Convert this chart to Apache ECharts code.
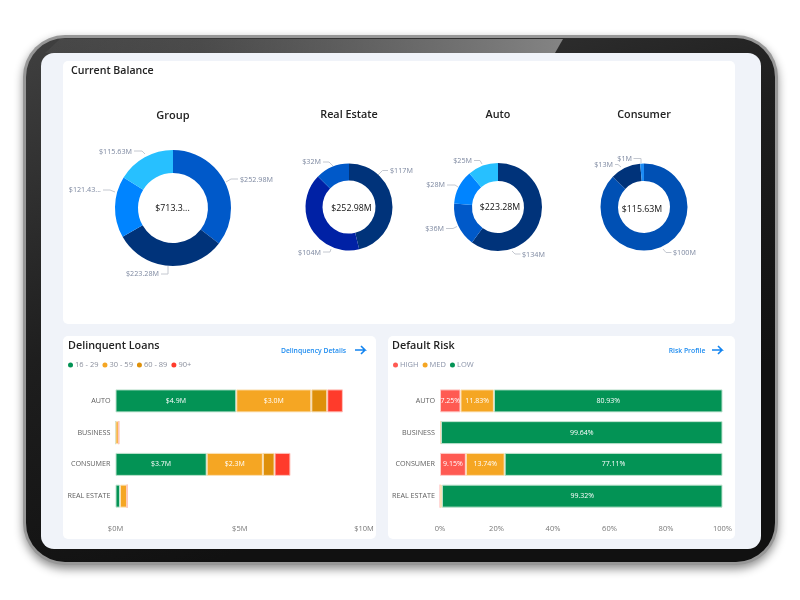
<!DOCTYPE html>
<html>
<head>
<meta charset="utf-8">
<title>Loan dashboard</title>
<script src="https://cdn.jsdelivr.net/npm/echarts@6/dist/echarts.min.js"></script>
<style>
  html, body { margin: 0; padding: 0; background: #fff; }
  #main { width: 800px; height: 600px; }
</style>
</head>
<body>
<div id="main"></div>
<script>
// donut data
const groupValues = [252.98, 223.28, 121.43, 115.63];
const groupLabels = ['$252.98M', '$223.28M', '$121.43...', '$115.63M'];
const realEstateValues = [117, 104, 32];
const realEstateLabels = ['$117M', '$104M', '$32M'];
const autoValues = [134, 36, 28, 25];
const autoLabels = ['$134M', '$36M', '$28M', '$25M'];
const consumerValues = [100, 13, 1.6];
const consumerLabels = ['$100M', '$13M', '$1M'];

// bar data
const loanTypes = ['AUTO', 'BUSINESS', 'CONSUMER', 'REAL ESTATE'];
const days16to29 = [4.86, 0, 3.67, 0.18];
const days30to59 = [3.02, 0.13, 2.26, 0.29];
const days60to89 = [0.64, 0, 0.47, 0];
const days90plus = [0.63, 0, 0.64, 0];
const riskHigh = [7.25, 0.36, 9.15, 0];
const riskMed = [11.83, 0, 13.74, 0.68];
const riskLow = [80.93, 99.64, 77.11, 99.32];

const FONT = '"Open Sans", "Noto Sans", sans-serif';
const chart = echarts.init(document.getElementById('main'));

// spots: where each outside label sits, [x, y, align, leader line points]
function donut(values, labels, colors, center, radius, spots) {
    return {
        type: 'pie',
        center: center,
        radius: radius,
        startAngle: 90,
        avoidLabelOverlap: false,
        data: values.map((v, i) => ({
            value: v,
            name: labels[i],
            itemStyle: { color: colors[i] }
        })),
        label: { formatter: '{b}', color: '#7d88a0', fontSize: 7.2, fontFamily: FONT },
        labelLine: { lineStyle: { color: '#c4c8d0', width: 1 } },
        labelLayout: p => ({
            x: spots[p.dataIndex][0],
            y: spots[p.dataIndex][1],
            align: spots[p.dataIndex][2],
            verticalAlign: 'middle',
            labelLinePoints: spots[p.dataIndex][3]
        }),
        emphasis: { disabled: true },
        silent: true
    };
}

function bar(name, values, color, border, grid, labelMin, fmt) {
    return {
        name: name,
        type: 'bar',
        stack: 'g' + grid,
        xAxisIndex: grid,
        yAxisIndex: grid,
        barWidth: 23,
        data: values,
        itemStyle: { color: color, borderColor: border, borderWidth: 1 },
        label: {
            show: true,
            position: 'inside',
            color: '#fff',
            fontSize: 7,
            fontFamily: FONT,
            formatter: p => p.value >= labelMin ? fmt(p.value) : ''
        },
        silent: true
    };
}

const money = v => '$' + v.toFixed(1) + 'M';
const pct = v => v.toFixed(2) + '%';

function text(str, x, y, size, color, align, weight) {
    return {
        type: 'text', x: x, y: y, silent: true,
        style: {
            text: str, fontSize: size, fill: color, fontFamily: FONT,
            align: align || 'left', verticalAlign: 'middle', fontWeight: weight || 400
        }
    };
}

function card(x, y, w, h) {
    return {
        type: 'rect', silent: true,
        shape: { x: x, y: y, width: w, height: h, r: 5 },
        style: { fill: '#fff' }
    };
}

function arrow(x, y) {
    return {
        type: 'polyline', silent: true,
        shape: { points: [[x, y], [x + 10, y], [x + 6, y - 4], [x + 10, y], [x + 6, y + 4]] },
        style: { stroke: '#1384f0', lineWidth: 1.6, fill: null }
    };
}

function xAxis(grid, max, interval, fmt) {
    return {
        type: 'value', gridIndex: grid, min: 0, max: max, interval: interval,
        axisLine: { show: false }, axisTick: { show: false }, splitLine: { show: false },
        axisLabel: { color: '#777', fontSize: 7.5, fontFamily: FONT, margin: 13, formatter: fmt }
    };
}

function yAxis(grid) {
    return {
        type: 'category', gridIndex: grid, data: loanTypes, inverse: true,
        axisLine: { show: false }, axisTick: { show: false },
        axisLabel: { color: '#5f5f5f', fontSize: 7.2, fontFamily: FONT, margin: 5 }
    };
}

function legend(names, left, color) {
    return {
        data: names, left: left, top: 361, orient: 'horizontal',
        icon: 'circle', itemWidth: 5, itemHeight: 5, itemGap: 4,
        selectedMode: false, padding: 0,
        itemStyle: { borderWidth: 0 },
        textStyle: { color: color, fontSize: 7.5, fontFamily: FONT, padding: [0, 0, 0, -3] }
    };
}

const option = {
    animation: false,
    backgroundColor: '#fff',
    graphic: [
        // tablet frame
        {
            type: 'rect', silent: true,
            shape: { x: 23, y: 35, width: 755, height: 530, r: 42 },
            style: { fill: '#979797', shadowBlur: 10, shadowColor: 'rgba(0,0,0,0.45)', shadowOffsetX: 0, shadowOffsetY: 4 }
        },
        {
            type: 'rect', silent: true,
            shape: { x: 26, y: 38, width: 749, height: 524, r: 39 },
            style: {
                fill: {
                    type: 'linear', x: 0, y: 0, x2: 0.25, y2: 1,
                    colorStops: [{ offset: 0, color: '#404040' }, { offset: 0.55, color: '#1e1e1e' }, { offset: 1, color: '#111' }]
                }
            }
        },
        // glare on the top edge
        {
            type: 'polygon', silent: true,
            shape: { points: [[60, 39], [563, 39], [555, 53], [45, 53]] },
            style: {
                fill: {
                    type: 'linear', x: 0, y: 0, x2: 1, y2: 0,
                    colorStops: [{ offset: 0, color: 'rgba(128,128,128,0.12)' }, { offset: 0.3, color: 'rgba(128,128,128,0.25)' }, { offset: 1, color: 'rgba(132,132,132,1)' }]
                }
            }
        },
        // screen and cards
        {
            type: 'rect', silent: true,
            shape: { x: 41, y: 53, width: 720, height: 496, r: 13 },
            style: { fill: '#f0f3f9' }
        },
        card(63, 61, 672, 263),
        card(63, 336, 313, 203),
        card(388, 336, 347, 203),
        // headings
        text('Current Balance', 71, 71, 10.6, '#222', 'left', 600),
        text('Group', 173, 116, 11, '#222', 'center', 600),
        text('Real Estate', 349, 115, 10.8, '#222', 'center', 600),
        text('Auto', 498, 115, 10.8, '#222', 'center', 600),
        text('Consumer', 644, 115, 10.8, '#222', 'center', 600),
        // donut centres
        text('$713.3...', 172.5, 208, 8.8, '#111', 'center'),
        text('$252.98M', 351.5, 208, 8.8, '#111', 'center'),
        text('$223.28M', 500, 207, 8.8, '#111', 'center'),
        text('$115.63M', 642, 209, 8.8, '#111', 'center'),
        // bar cards
        text('Delinquent Loans', 68, 346, 10.8, '#222', 'left', 600),
        text('Delinquency Details', 313.5, 351, 6.8, '#1e8cf0', 'center', 600),
        arrow(355, 350),
        text('Default Risk', 392, 346, 10.8, '#222', 'left', 600),
        text('Risk Profile', 687, 351, 6.8, '#1e8cf0', 'center', 600),
        arrow(712, 350)
    ],
    legend: [
        legend(['16 - 29', '30 - 59', '60 - 89', '90+'], 68, '#8a8f9c'),
        legend(['HIGH', 'MED', 'LOW'], 393, '#8a93a8')
    ],
    grid: [
        { left: 115.5, width: 248.5, top: 385, height: 127, containLabel: false },
        { left: 440, width: 282.5, top: 385, height: 127, containLabel: false }
    ],
    xAxis: [
        xAxis(0, 10, 5, v => '$' + v + 'M'),
        xAxis(1, 100, 20, v => v + '%')
    ],
    yAxis: [yAxis(0), yAxis(1)],
    series: [
        donut(groupValues, groupLabels, ['#0059c9', '#00337a', '#0084ff', '#27c0ff'], [173, 208], [35, 58], [
            [240, 180, 'left', [[226, 182], [231, 179], [238, 179]]],
            [159, 274, 'right', [[168, 266], [168, 274], [161, 274]]],
            [101, 190, 'right', [[115, 192], [110, 190], [103, 190]]],
            [132, 151.5, 'right', [[145, 154], [142, 151], [134, 151]]]
        ]),
        donut(realEstateValues, realEstateLabels, ['#00337a', '#0021a5', '#0059c9'], [349, 207], [26.5, 43.5], [
            [390, 171, 'left', [[378, 175], [382.5, 170.5], [388, 170.5]]],
            [321, 253, 'right', [[331, 249], [330, 252], [323, 252]]],
            [321, 162, 'right', [[333, 166], [329, 162], [323, 162]]]
        ]),
        donut(autoValues, autoLabels, ['#00337a', '#0059c9', '#0084ff', '#27c0ff'], [498, 207], [26, 44], [
            [522, 255, 'left', [[512, 251], [515, 254], [520.5, 254]]],
            [444, 229, 'right', [[457, 226.5], [453, 228.5], [446, 228.5]]],
            [445, 185, 'right', [[458, 187], [455, 185], [447, 185]]],
            [472, 161, 'right', [[482, 164], [480, 160.5], [474, 160.5]]]
        ]),
        donut(consumerValues, consumerLabels, ['#0050b4', '#00337a', '#1c8cf5'], [644, 207], [26, 43.5], [
            [673, 252.5, 'left', [[663, 249], [666, 252.5], [671.5, 252.5]]],
            [613, 164.5, 'right', [[621, 167], [618, 164.5], [615, 164.5]]],
            [632, 159, 'right', [[641, 163], [641, 158.5], [633.5, 158.5]]]
        ]),
        bar('16 - 29', days16to29, '#039355', '#bfe3cf', 0, 1, money),
        bar('30 - 59', days30to59, '#f5a623', '#fbe2b8', 0, 1, money),
        bar('60 - 89', days60to89, '#de900a', '#f6dcb0', 0, 1, money),
        bar('90+', days90plus, '#ff3b2b', '#ffc2bc', 0, 1, money),
        bar('HIGH', riskHigh, '#ff5a52', '#ffcdca', 1, 5, pct),
        bar('MED', riskMed, '#f5a623', '#fbe2b8', 1, 5, pct),
        bar('LOW', riskLow, '#039355', '#bfe3cf', 1, 5, pct)
    ]
};

chart.setOption(option);
</script>
</body>
</html>
